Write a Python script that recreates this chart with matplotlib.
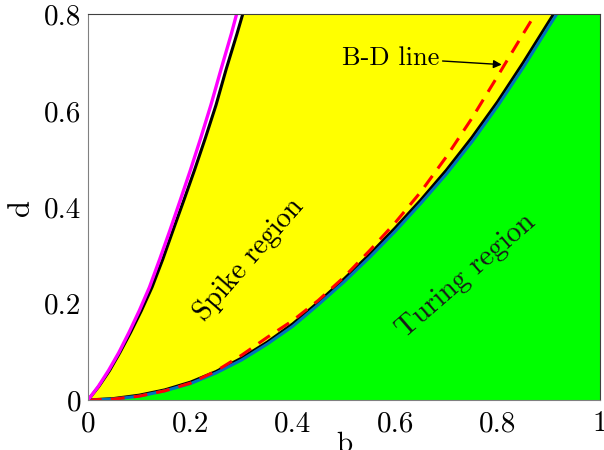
import numpy as np
import matplotlib
matplotlib.use("Agg")
import matplotlib.pyplot as plt

plt.rcParams['font.family'] = ['cmr10', 'DejaVu Serif']
plt.rcParams['axes.formatter.use_mathtext'] = True

# upper boundary (magenta) and black line just right of it
b_mag = [0, 0.02, 0.04, 0.06, 0.08, 0.1, 0.12, 0.14, 0.16, 0.18,
         0.2, 0.22, 0.24, 0.26, 0.28, 0.29]
d_mag = [0, 0.028, 0.061, 0.098, 0.140, 0.185, 0.234, 0.292, 0.352, 0.414,
         0.477, 0.543, 0.612, 0.687, 0.760, 0.800]
b_blk_up = [0, 0.021, 0.042, 0.062, 0.083, 0.104, 0.125, 0.146, 0.166, 0.187,
            0.208, 0.229, 0.250, 0.270, 0.291, 0.302]
d_blk_up = d_mag

# lower boundary (Turing onset), blue over black
b_low = [0, 0.05, 0.1, 0.15, 0.2, 0.25, 0.3, 0.35, 0.4, 0.45, 0.5,
         0.55, 0.6, 0.65, 0.7, 0.75, 0.8, 0.85, 0.9, 0.915]
d_low = [0, 0.002, 0.008, 0.019, 0.034, 0.056, 0.083, 0.116, 0.153, 0.198, 0.245,
         0.296, 0.350, 0.408, 0.469, 0.536, 0.610, 0.690, 0.775, 0.800]
d_low_blk = [0, 0.003, 0.010, 0.021, 0.037, 0.059, 0.087, 0.120, 0.158, 0.203, 0.251,
             0.302, 0.357, 0.415, 0.477, 0.545, 0.619, 0.700, 0.785, 0.810]

# B-D line (red dashed)
b_bd = [0, 0.05, 0.1, 0.15, 0.2, 0.25, 0.3, 0.35, 0.4, 0.45, 0.5,
        0.55, 0.6, 0.65, 0.7, 0.75, 0.8, 0.85, 0.873]
d_bd = [0, 0.002, 0.008, 0.019, 0.035, 0.060, 0.093, 0.130, 0.165, 0.207, 0.255,
        0.310, 0.368, 0.432, 0.505, 0.585, 0.672, 0.760, 0.800]

xticks = [0, 0.2, 0.4, 0.6, 0.8, 1]
xticklabels = ['0', '0.2', '0.4', '0.6', '0.8', '1']
yticks = [0, 0.2, 0.4, 0.6, 0.8]
yticklabels = ['0', '0.2', '0.4', '0.6', '0.8']

fig = plt.figure(figsize=(6.04, 4.5), dpi=100)
ax = fig.add_axes([0.1457, 0.1111, 0.8477, 0.8567])
ax.set_xlim(0, 1)
ax.set_ylim(0, 0.8)

# fills, built on a d grid
dg = np.linspace(0, 0.8, 400)
bu = np.interp(dg, d_blk_up, b_blk_up)
bl = np.interp(dg, d_low, b_low)
ax.fill_betweenx(dg, bu, bl, color='#ffff00', lw=0)
ax.fill_betweenx(dg, bl, ax.get_xlim()[1], color='#00ff00', lw=0)

ax.plot(b_low, d_low_blk, color='black', lw=2.2)
ax.plot(b_low, d_low, color='#0072bd', lw=2.2)
ax.plot(b_bd, d_bd, color='#ff0000', lw=2.2, dashes=(4.5, 3))
ax.plot(b_blk_up, d_blk_up, color='black', lw=2.2)
ax.plot(b_mag, d_mag, color='#ff00ff', lw=2.4)

ax.text(0.314, 0.292, 'Spike region', rotation=49, fontsize=20.5,
        ha='center', va='center', rotation_mode='anchor')
ax.text(0.738, 0.257, 'Turing region', rotation=41, fontsize=21,
        ha='center', va='center', rotation_mode='anchor', color='#1a1a1a')
ax.annotate('B-D line', xy=(0.808, 0.696), xytext=(0.592, 0.710),
            fontsize=19, ha='center', va='center',
            arrowprops=dict(arrowstyle='-|>', color='black', lw=1,
                            mutation_scale=12, shrinkA=54, shrinkB=0))

ax.set_xticks(xticks)
ax.set_xticklabels(xticklabels)
ax.set_yticks(yticks)
ax.set_yticklabels(yticklabels)
ax.tick_params(length=0, labelsize=21)
ax.tick_params(axis='x', pad=8)
ax.tick_params(axis='y', pad=5)
ax.set_xlabel('b', fontsize=21, labelpad=-4)
ax.set_ylabel('d', fontsize=22, labelpad=6)

for s in ['left', 'bottom']:
    ax.spines[s].set_color('#808080')
for s in ['top', 'right']:
    ax.spines[s].set_color('#404040')

fig.savefig('out.png', dpi=100)
